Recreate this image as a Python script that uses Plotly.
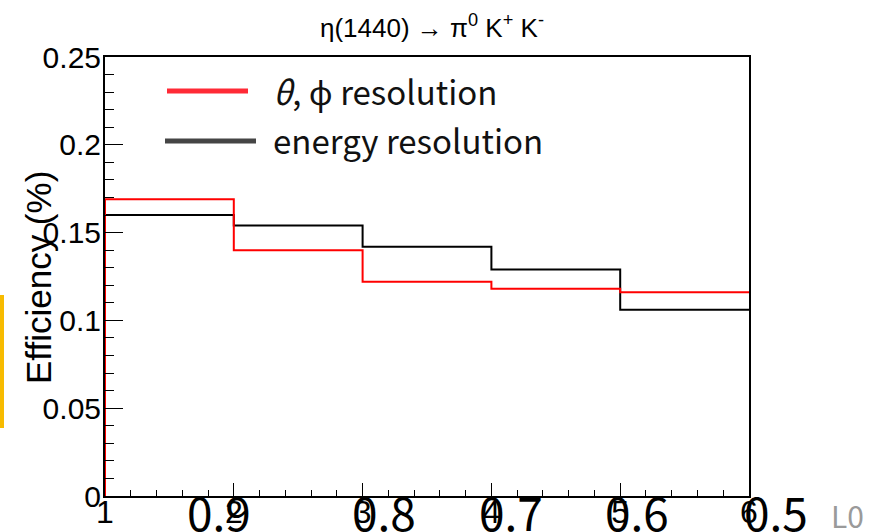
import plotly.graph_objects as go

# Bin edges and efficiencies per bin
bin_edges = [1, 2, 3, 4, 5, 6]
eff_angle = [0.169, 0.140, 0.122, 0.118, 0.116]      # theta, phi resolution
eff_energy = [0.160, 0.154, 0.142, 0.129, 0.106]     # energy resolution

x_tick_vals = [1, 2, 3, 4, 5, 6]
x_tick_text = ["1", "2", "3", "4", "5", "6"]
ratio_labels = ["0.9", "0.8", "0.7", "0.6", "0.5"]
ratio_label_px = [185, 350, 477, 603, 742]

W, H = 874, 532
L, R, T, B = 105, 749, 57, 496
PW, PH = R - L, B - T


def px(xp):
    return (xp - L) / PW


def py(yp):
    return (B - yp) / PH


def step_xy(values):
    xs = [bin_edges[0]] + bin_edges
    ys = [0] + values + [values[-1]]
    return xs, ys


fig = go.Figure()
for vals, col in [(eff_energy, "#000000"), (eff_angle, "#ff0000")]:
    xs, ys = step_xy(vals)
    fig.add_trace(go.Scatter(x=xs, y=ys, mode="lines", line=dict(color=col, width=2, shape="hv"),
                             showlegend=False, hoverinfo="skip", cliponaxis=False))

tick_font = dict(family="Liberation Sans, Arial, sans-serif", size=30, color="black")

fig.update_layout(
    width=W, height=H,
    margin=dict(l=L, r=W - R, t=T, b=H - B, pad=0),
    paper_bgcolor="white", plot_bgcolor="white",
    showlegend=False,
    title=dict(text="η(1440) → π<sup>0</sup> K<sup>+</sup> K<sup>-</sup>",
               x=432 / W, xanchor="center", y=1 - 28 / H, yanchor="middle", automargin=False,
               font=dict(family="Liberation Sans, Arial, sans-serif", size=26, color="black")),
    xaxis=dict(range=[1, 6], showgrid=False, zeroline=False, showline=True, linecolor="black",
               linewidth=2, mirror=True, ticks="inside", ticklen=13, tickwidth=1, tickcolor="black",
               tickvals=x_tick_vals, ticktext=x_tick_text, tickfont=dict(tick_font, size=32),
               automargin=False, ticklabelstandoff=-13,
               minor=dict(ticks="inside", ticklen=6, dtick=0.2, tickcolor="black", showgrid=False)),
    yaxis=dict(range=[0, 0.25], showgrid=False, zeroline=False, showline=True, linecolor="black",
               linewidth=2, mirror=True, ticks="inside", ticklen=18, tickwidth=1, tickcolor="black",
               tickvals=[0, 0.05, 0.1, 0.15, 0.2, 0.25], ticktext=["0", "0.05", "0.1", "0.15", "0.2", "0.25"],
               tickfont=tick_font, automargin=False, ticklabelstandoff=-4,
               minor=dict(ticks="inside", ticklen=9, dtick=0.01, tickcolor="black", showgrid=False)),
)

# Y axis title
fig.add_annotation(text="Efficiency (%)", textangle=-90, xref="paper", yref="paper",
                   x=px(38), y=py(278), xanchor="center", yanchor="middle", showarrow=False,
                   font=dict(family="Liberation Sans, Arial, sans-serif", size=35, color="black"))

# Legend entries
fig.add_shape(type="line", xref="paper", yref="paper", x0=px(167), x1=px(248), y0=py(91), y1=py(91),
              line=dict(color="#ff2a36", width=5))
fig.add_shape(type="line", xref="paper", yref="paper", x0=px(165), x1=px(256), y0=py(141), y1=py(141),
              line=dict(color="#454545", width=5))
legend_font = dict(family="Noto Sans CJK SC, Noto Sans, sans-serif", size=33, color="#111111")
fig.add_annotation(text="<i>θ</i>, ϕ resolution", xref="paper", yref="paper", x=px(271), y=py(91),
                   xanchor="left", yanchor="middle", showarrow=False, font=legend_font)
fig.add_annotation(text="energy resolution", xref="paper", yref="paper", x=px(271), y=py(140),
                   xanchor="left", yanchor="middle", showarrow=False, font=legend_font)

# Second row of axis labels
big_font = dict(family="Noto Sans CJK SC, Noto Sans, sans-serif", size=46, color="black")
for lab, xp in zip(ratio_labels, ratio_label_px):
    fig.add_annotation(text=lab, xref="paper", yref="paper", x=px(xp), y=py(476),
                       xanchor="left", yanchor="top", showarrow=False, font=big_font)
fig.add_annotation(text="L0", xref="paper", yref="paper", x=px(829), y=py(491),
                   xanchor="left", yanchor="top", showarrow=False,
                   font=dict(family="Noto Sans CJK SC, Noto Sans, sans-serif", size=30, color="#9a9a9a"))

# Side marker bar
fig.add_shape(type="rect", xref="paper", yref="paper", x0=px(0), x1=px(4), y0=py(428), y1=py(295),
              line=dict(width=0), fillcolor="#f7bb00")

fig.write_html("out.html")
